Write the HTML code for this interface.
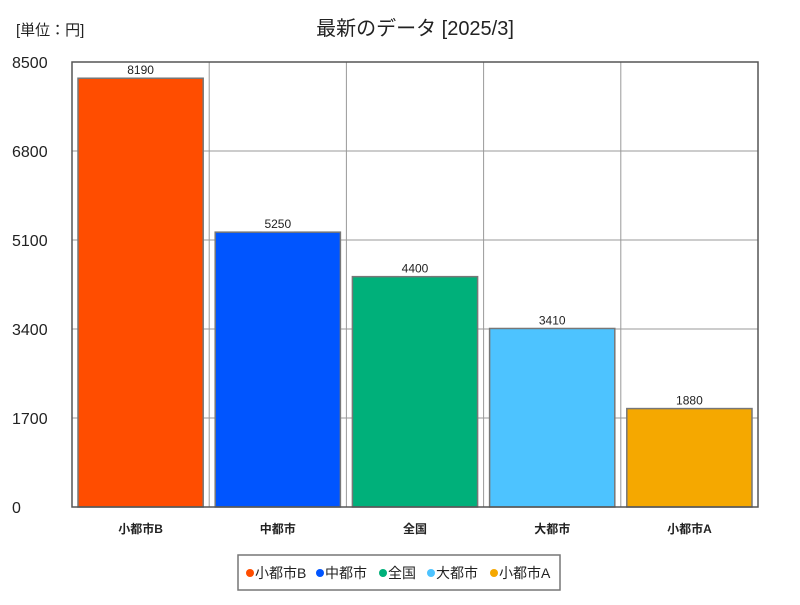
<!DOCTYPE html>
<html><head><meta charset="utf-8"><style>
body{margin:0;background:#fff;font-family:"Liberation Sans","Noto Sans CJK JP",sans-serif;}
svg text{font-family:"Liberation Sans","Noto Sans CJK JP",sans-serif;}
</style></head><body>
<svg id="c" width="800" height="600" xmlns="http://www.w3.org/2000/svg">
<rect width="800" height="600" fill="#fff"/>
<text x="415" y="35" text-anchor="middle" font-size="20" fill="#222">最新のデータ [2025/3]</text>
<text x="16" y="35" font-size="15" fill="#222">[単位：円]</text>
<g id="grid"></g><g id="bars"></g>
<rect x="72" y="62" width="686" height="445" fill="none" stroke="#555" stroke-width="1.5"/>
<g id="legend"></g>
</svg>
<script>
const categories=["小都市B","中都市","全国","大都市","小都市A"];
const values=[8190,5250,4400,3410,1880];
const colors=["#ff4d00","#0055ff","#00b07a","#4dc3ff","#f5a800"];
const ticks=[0,1700,3400,5100,6800,8500];
const L=72,R=758,T=62,B=507,ymax=8500;
const NS="http://www.w3.org/2000/svg";
const y=v=>B-(v/ymax)*(B-T);
const cw=(R-L)/categories.length;
const x=i=>L+i*cw;
function mk(t,a,p,txt){const e=document.createElementNS(NS,t);for(const k in a)e.setAttribute(k,a[k]);if(txt!==undefined)e.textContent=txt;p.appendChild(e);return e;}
const g=document.getElementById('grid'),b=document.getElementById('bars'),lg=document.getElementById('legend');
ticks.forEach(t=>{
 const l=mk('line',{x1:L,x2:R,y1:y(t),y2:y(t),stroke:'#999','stroke-width':1},g);
 
 
 const tx=mk('text',{x:12,y:y(t)+6,'font-size':16,fill:'#222'},g,String(t));
 
 
});
for(let i=1;i<categories.length;i++){
 const l=mk('line',{x1:x(i),x2:x(i),y1:T,y2:B,stroke:'#999','stroke-width':1},g);
 
 
}
categories.forEach((c,i)=>{
 const bx=x(i)+6,bw=cw-12;
 const r=mk('rect',{x:bx,y:y(values[i]),width:bw,height:B-y(values[i]),fill:colors[i],stroke:'#777','stroke-width':1.5},b);
 
 
 const bg=mk('rect',{x:bx+bw/2-16,y:y(values[i])-14,width:32,height:13,fill:'#fff'},b);
 
 
 const v=mk('text',{x:bx+bw/2,y:y(values[i])-4,'font-size':12,'text-anchor':'middle',fill:'#222'},b,String(values[i]));
 
 
 const cl=mk('text',{x:x(i)+cw/2,y:533,'font-size':12,'font-weight':'bold','text-anchor':'middle',fill:'#222'},b,c);
 
 
});
const box=mk('rect',{x:238,y:555,width:322,height:35,fill:'#fff',stroke:'#777','stroke-width':1.5},lg);


const lx=[250,320,383,431,494];
categories.forEach((c,i)=>{
 const d=mk('circle',{cx:lx[i],cy:573,r:4,fill:colors[i]},lg);
 
 
 const t=mk('text',{x:lx[i]+5,y:578,'font-size':14,fill:'#222'},lg,c);
 
 
});
</script>
</body></html>
